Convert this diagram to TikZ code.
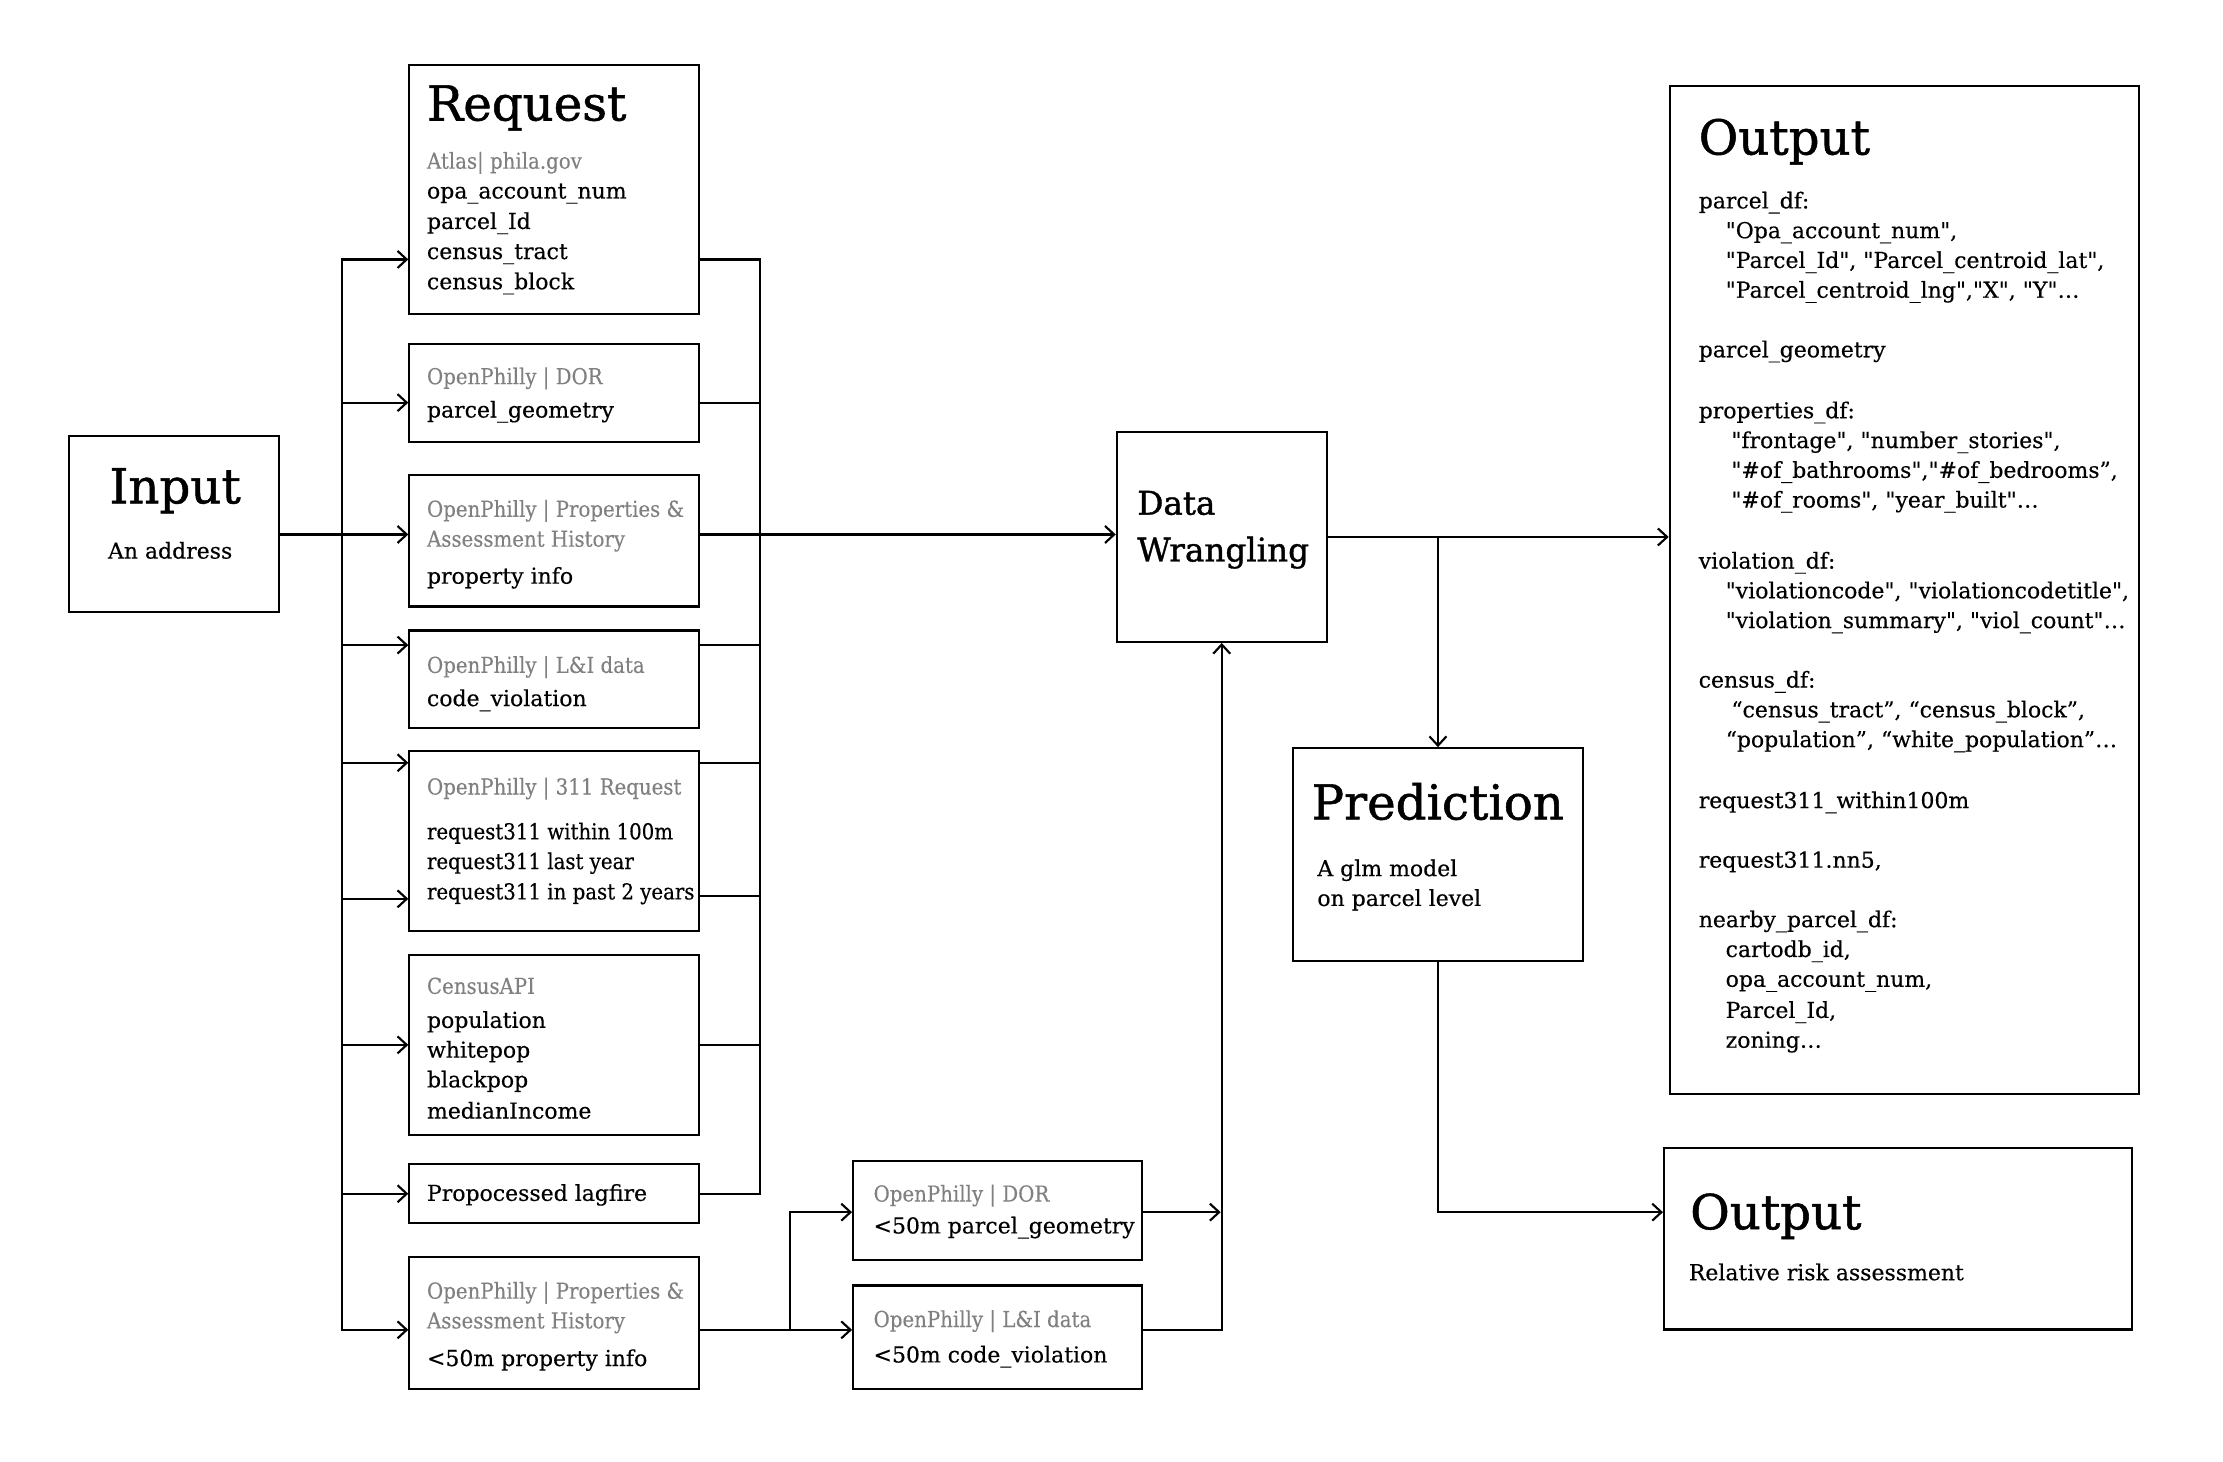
\documentclass[tikz,border=0pt]{standalone}
\usepackage{fontspec}
\setmainfont{DejaVu Serif}[Ligatures=TeXOff]
\newfontfamily\bodyfam{DejaVu Serif}[Ligatures=TeXOff, FakeBold=0.35]
\newfontfamily\condfam{DejaVu Serif Condensed}[Ligatures=TeXOff, FakeBold=0.35]
\newfontfamily\grayfam{DejaVu Serif Condensed}[Ligatures=TeXOff, FakeBold=0.2]
\newfontfamily\ttlfam{DejaVu Serif}[Ligatures=TeXOff, FakeBold=1.1]
\usetikzlibrary{arrows.meta}
\definecolor{gr}{HTML}{808080}
\newcommand\bodyf{\bodyfam\fontsize{15.5}{21}\selectfont}
\newcommand\condf{\condfam\fontsize{15.5}{21}\selectfont}
\newcommand\grayf{\grayfam\fontsize{15.5}{21}\selectfont}
\newcommand\ttlf{\ttlfam\fontsize{34}{40}\selectfont}
\newcommand\dwf{\ttlfam\fontsize{23}{28}\selectfont}
\begin{document}
\begin{tikzpicture}[x=1pt,y=-1pt,
 box/.style={draw, line width=1.5pt, inner sep=0pt, anchor=north west},
 tx/.style={anchor=base west, inner sep=0pt, font=\bodyf},
 cx/.style={anchor=base west, inner sep=0pt, font=\condf},
 gt/.style={anchor=base west, inner sep=0pt, font=\grayf, text=gr},
 tt/.style={anchor=base west, inner sep=0pt, font=\ttlf},
 dwt/.style={anchor=base west, inner sep=0pt, font=\dwf},
 ln/.style={line width=1.5pt},
 bus/.style={line width=1.5pt, line cap=rect},
 arr/.style={line width=1.5pt, -{Straight Barb[length=6.5pt,width=12pt]}}]
\useasboundingbox[fill=white] (0,0) rectangle (1568,1031);

% boxes
\node[box, minimum width=148, minimum height=124] (inp) at (48,307) {};
\node[box, minimum width=204, minimum height=176] (req) at (288,45) {};
\node[box, minimum width=204, minimum height=69] (dor) at (288,242) {};
\node[box, minimum width=204, minimum height=93] (props) at (288,334) {};
\node[box, minimum width=204, minimum height=69] (li) at (288,444) {};
\node[box, minimum width=204, minimum height=127] (rq) at (288,529) {};
\node[box, minimum width=204, minimum height=127] (cens) at (288,673) {};
\node[box, minimum width=204, minimum height=42] (lag) at (288,820) {};
\node[box, minimum width=204, minimum height=93] (props2) at (288,886) {};
\node[box, minimum width=204, minimum height=70] (dor2) at (601,818) {};
\node[box, minimum width=204, minimum height=73] (li2) at (601,906) {};
\node[box, minimum width=148, minimum height=148] (dw) at (787,304) {};
\node[box, minimum width=205, minimum height=150] (pred) at (911,527) {};
\node[box, minimum width=331, minimum height=711] (out1) at (1177,60) {};
\node[box, minimum width=330, minimum height=128] (out2) at (1173,809) {};

% texts
\node[tt] (tinp) at (77,355) {Input};
\node[tx] (tinp1) at (76,394) {An address};

\node[tt] (treq) at (301,85) {Request};
\node[gt] (treq0) at (301,119) {Atlas| phila.gov};
\node[tx] (treq1) at (301,140) {opa\_account\_num};
\node[tx] (treq2) at (301,161.5) {parcel\_Id};
\node[tx] (treq3) at (301,182.7) {census\_tract};
\node[tx] (treq4) at (301,204) {census\_block};

\node[gt] (tdor0) at (301,271) {OpenPhilly | DOR};
\node[tx] (tdor1) at (301,294.5) {parcel\_geometry};

\node[gt] (tpr0) at (301,364.5) {OpenPhilly | Properties \&};
\node[gt] (tpr1) at (301,385.6) {Assessment History};
\node[tx] (tpr2) at (301,411.7) {property info};

\node[gt] (tli0) at (301,474.6) {OpenPhilly | L\&I data};
\node[tx] (tli1) at (301,498) {code\_violation};

\node[gt] (trq0) at (301,560.4) {OpenPhilly | 311 Request};
\node[cx] (trq1) at (301,592) {request311 within 100m};
\node[cx] (trq2) at (301,613) {request311 last year};
\node[cx] (trq3) at (301,634.4) {request311 in past 2 years};

\node[gt] (tce0) at (301,701) {CensusAPI};
\node[tx] (tce1) at (301,725) {population};
\node[tx] (tce2) at (301,746) {whitepop};
\node[tx] (tce3) at (301,767) {blackpop};
\node[tx] (tce4) at (301,789) {medianIncome};

\node[tx] (tlag) at (301,847) {Propocessed lagfire};

\node[gt] (tp20) at (301,916) {OpenPhilly | Properties \&};
\node[gt] (tp21) at (301,937) {Assessment History};
\node[tx] (tp22) at (301,963.5) {<50m property info};

\node[gt] (td20) at (616,847.5) {OpenPhilly | DOR};
\node[tx] (td21) at (616,870) {<50m parcel\_geometry};

\node[gt] (tl20) at (616,936) {OpenPhilly | L\&I data};
\node[tx] (tl21) at (616,961) {<50m code\_violation};

\node[dwt] (tdw0) at (802,363) {Data};
\node[dwt] (tdw1) at (802,396) {Wrangling};

\node[tt] (tpred) at (925,578) {Prediction};
\node[tx] (tpred1) at (929,618) {A glm model};
\node[tx] (tpred2) at (929,639) {on parcel level};

\node[tt] (to1) at (1198,109) {Output};
\node[tx] (o1) at (1198,147) {parcel\_df:};
\node[tx] (o2) at (1217,168) {"Opa\_account\_num",};
\node[tx] (o3) at (1217,189) {"Parcel\_Id", "Parcel\_centroid\_lat",};
\node[tx] (o4) at (1217,210) {"Parcel\_centroid\_lng","X", "Y"…};
\node[tx] (o5) at (1198,252) {parcel\_geometry};
\node[tx] (o6) at (1198,295) {properties\_df:};
\node[tx] (o7) at (1221,316) {"frontage", "number\_stories",};
\node[tx] (o8) at (1221,337) {"\#of\_bathrooms","\#of\_bedrooms”,};
\node[tx] (o9) at (1221,358) {"\#of\_rooms", "year\_built"…};
\node[tx] (o10) at (1198,401) {violation\_df:};
\node[tx] (o11) at (1217,422) {"violationcode", "violationcodetitle",};
\node[tx] (o12) at (1217,443) {"violation\_summary", "viol\_count"…};
\node[tx] (o13) at (1198,485) {census\_df:};
\node[tx] (o14) at (1221,506) {“census\_tract”, “census\_block”,};
\node[tx] (o15) at (1217,527) {“population”, “white\_population”…};
\node[tx] (o16) at (1198,570) {request311\_within100m};
\node[tx] (o17) at (1198,612) {request311.nn5,};
\node[tx] (o18) at (1198,654) {nearby\_parcel\_df:};
\node[tx] (o19) at (1217,675) {cartodb\_id,};
\node[tx] (o20) at (1217,696) {opa\_account\_num,};
\node[tx] (o21) at (1217,718) {Parcel\_Id,};
\node[tx] (o22) at (1217,739) {zoning…};

\node[tt] (to2) at (1192,867) {Output};
\node[tx] (to2a) at (1191,903) {Relative risk assessment};

% bus coordinates
\coordinate (lb1) at (241,183);
\coordinate (lb2) at (241,284);
\coordinate (lb3) at (241,377);
\coordinate (lb4) at (241,455);
\coordinate (lb5) at (241,538);
\coordinate (lb6) at (241,634);
\coordinate (lb7) at (241,737);
\coordinate (lb8) at (241,842);
\coordinate (lb9) at (241,938);
\coordinate (rb1) at (536,183);
\coordinate (rb2) at (536,284);
\coordinate (rb3) at (536,377);
\coordinate (rb4) at (536,455);
\coordinate (rb5) at (536,538);
\coordinate (rb6) at (536,632);
\coordinate (rb7) at (536,737);
\coordinate (rb8) at (536,842);
\coordinate (bb1) at (557,938);
\coordinate (bb2) at (557,855);
\coordinate (up2) at (861,855);
\coordinate (o2in) at (1173,855);

% left bus
\draw[bus] (lb1) -- (lb9);
\draw[arr] (inp.east |- lb3) -- (props.west |- lb3);
\draw[arr] (lb1) -- (req.west |- lb1);
\draw[arr] (lb2) -- (dor.west |- lb2);
\draw[arr] (lb4) -- (li.west |- lb4);
\draw[arr] (lb5) -- (rq.west |- lb5);
\draw[arr] (lb6) -- (rq.west |- lb6);
\draw[arr] (lb7) -- (cens.west |- lb7);
\draw[arr] (lb8) -- (lag.west |- lb8);
\draw[arr] (lb9) -- (props2.west |- lb9);

% right bus
\draw[bus] (rb1) -- (rb8);
\draw[ln] (req.east |- rb1) -- (rb1);
\draw[ln] (dor.east |- rb2) -- (rb2);
\draw[arr] (props.east |- rb3) -- (dw.west |- rb3);
\draw[ln] (li.east |- rb4) -- (rb4);
\draw[ln] (rq.east |- rb5) -- (rb5);
\draw[ln] (rq.east |- rb6) -- (rb6);
\draw[ln] (cens.east |- rb7) -- (rb7);
\draw[ln] (lag.east |- rb8) -- (rb8);

% lower branch
\draw[ln] (props2.east |- bb1) -- (bb1);
\draw[arr] (bb1) |- (dor2.west |- bb2);
\draw[arr] (bb1) -- (li2.west |- bb1);
\draw[arr] (dor2.east |- bb2) -- (up2);
\draw[arr] (li2.east |- bb1) -| (dw.south);

% right side
\draw[arr] (dw.east) -- (dw.east -| out1.west);
\draw[arr] (dw.east -| pred.north) -- (pred.north);
\draw[arr] (pred.south) |- (o2in);
\end{tikzpicture}
\end{document}
